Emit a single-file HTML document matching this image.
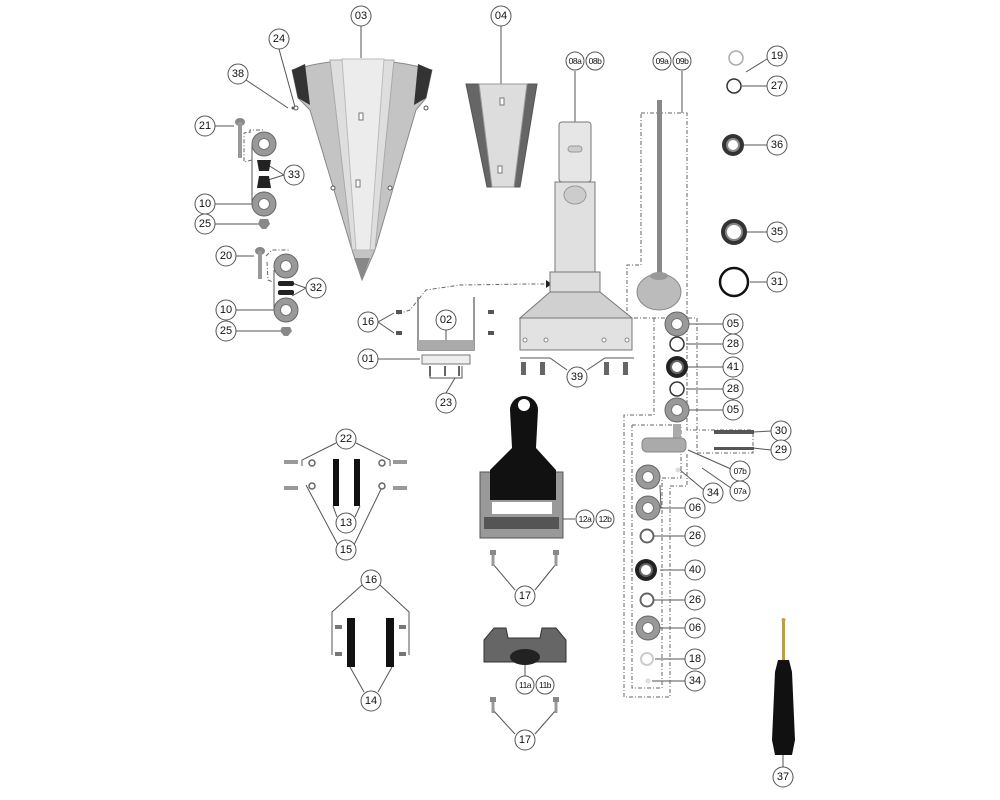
<!DOCTYPE html>
<html><head><meta charset="utf-8"><style>
html,body{margin:0;padding:0;background:#fff;width:1000px;height:800px;overflow:hidden}
svg{display:block}
.l{fill:#fff;stroke:#555;stroke-width:1}
.t{font-family:"Liberation Sans",sans-serif;font-size:11px;fill:#111;text-anchor:middle;dominant-baseline:central}
.s{font-size:8.5px;letter-spacing:-0.5px}
.ln{stroke:#555;stroke-width:1;fill:none}
.d{stroke:#666;stroke-width:1;fill:none;stroke-dasharray:4 2 1 2}
</style></head><body>
<svg width="1000" height="800" viewBox="0 0 1000 800" xmlns="http://www.w3.org/2000/svg">
<defs>
<g id="wash"><circle r="12" fill="#999" stroke="#666"/><circle r="5.5" fill="#fff" stroke="#777"/></g>
<g id="bolt"><rect x="-3" y="-5" width="6" height="5" fill="#888"/><rect x="-1.5" y="0" width="3" height="11" fill="#999"/></g>
</defs>

<g class="ln">
<line x1="361" y1="26" x2="361" y2="58"/>
<line x1="501" y1="26" x2="501" y2="84"/>
<line x1="279" y1="49" x2="295" y2="107"/>
<line x1="246" y1="80" x2="288" y2="108"/>
<line x1="215" y1="126" x2="234" y2="126"/>
<polyline points="284,175 268,165"/><polyline points="284,175 268,180"/>
<polyline points="215,204 252,204 252,145 258,140"/>
<line x1="215" y1="224" x2="262" y2="224"/>
<line x1="236" y1="256" x2="254" y2="256"/>
<polyline points="306,288 292,283"/><polyline points="306,288 292,296"/>
<polyline points="236,310 274,310 274,270"/>
<line x1="236" y1="331" x2="284" y2="331"/>
<polyline points="378,322 394,313"/><polyline points="378,322 394,333"/>
<line x1="446" y1="330" x2="446" y2="348"/>
<line x1="378" y1="359" x2="420" y2="359"/>
<polyline points="430,366 430,378 462,378 462,366"/><line x1="446" y1="393" x2="455" y2="378"/>
<polyline points="520,358 550,358 567,370"/><polyline points="634,358 605,358 587,370"/>
<line x1="575" y1="71" x2="575" y2="122"/>
<polyline points="682,71 682,113"/>
<line x1="767" y1="59" x2="746" y2="72"/>
<line x1="767" y1="86" x2="742" y2="86"/>
<line x1="767" y1="145" x2="744" y2="145"/>
<line x1="767" y1="232" x2="746" y2="232"/>
<line x1="767" y1="282" x2="750" y2="282"/>
<line x1="723" y1="324" x2="686" y2="324"/>
<line x1="723" y1="344" x2="686" y2="344"/>
<line x1="723" y1="367" x2="688" y2="367"/>
<line x1="723" y1="389" x2="686" y2="389"/>
<line x1="723" y1="410" x2="686" y2="410"/>
<line x1="771" y1="431" x2="753" y2="432"/>
<line x1="771" y1="450" x2="753" y2="448"/>
<line x1="731" y1="469" x2="688" y2="450"/>
<line x1="731" y1="488" x2="702" y2="468"/>
<line x1="704" y1="490" x2="680" y2="470"/>
<polyline points="685,508 661,508 660,485"/>
<line x1="685" y1="536" x2="653" y2="536"/>
<line x1="685" y1="570" x2="660" y2="570"/>
<line x1="685" y1="600" x2="653" y2="600"/>
<line x1="685" y1="628" x2="660" y2="628"/>
<line x1="685" y1="659" x2="655" y2="659"/>
<line x1="685" y1="681" x2="652" y2="681"/>
<polyline points="302,466 302,460 336,443"/><polyline points="390,466 390,460 356,443"/>
<line x1="337" y1="517" x2="333" y2="506"/><line x1="355" y1="517" x2="360" y2="506"/>
<line x1="338" y1="545" x2="306" y2="485"/><line x1="354" y1="545" x2="383" y2="485"/>
<line x1="558" y1="519" x2="575" y2="519"/>
<line x1="515" y1="590" x2="493" y2="564"/><line x1="535" y1="590" x2="556" y2="564"/>
<polyline points="332,655 332,612 362,585"/><polyline points="409,655 409,612 380,585"/>
<line x1="364" y1="692" x2="350" y2="667"/><line x1="378" y1="692" x2="392" y2="667"/>
<line x1="525" y1="665" x2="525" y2="676"/>
<line x1="515" y1="734" x2="493" y2="710"/><line x1="535" y1="734" x2="556" y2="710"/>
<line x1="783" y1="767" x2="783" y2="752"/>
</g>

<g class="d">
<polyline points="250,133 250,130 265,130"/>
<polyline points="252,160 244,162 244,133 250,132"/>
<polyline points="266,256 272,250 290,250"/>
<polyline points="267,262 268,280 273,282"/>
<path d="M398,314 L410,310 L426,290 L460,285 L530,284 L550,284"/>
<polyline points="641,113 687,113 687,430 753,430 753,453 697,453 697,318 627,318 627,265 641,265 641,113"/>
<polyline points="632,425 681,425 681,478 662,478 662,688 632,688 632,425"/>
<polyline points="654,318 654,415 624,415 624,697 670,697 670,486 687,486 687,453"/>
</g>
<polygon points="546,280 552,284 546,288" fill="#222"/>

<!-- 03 cone -->
<path d="M292,70 Q360,50 432,70 L426,98 L416,110 L375,250 L362,280 L352,250 L310,110 L298,98 Z" fill="#c4c4c4" stroke="#888"/>
<polygon points="292,70 305,64 310,105 298,98" fill="#333"/>
<polygon points="432,70 418,64 414,105 426,98" fill="#333"/>
<polygon points="330,60 394,60 375,250 352,250" fill="#dedede" stroke="#aaa"/>
<polygon points="342,59 384,59 370,250 356,250" fill="#ececec" stroke="#bbb"/>
<polygon points="354,258 370,258 362,280" fill="#888"/>
<rect x="359" y="113" width="4" height="7" fill="#fff" stroke="#777"/>
<rect x="356" y="180" width="4" height="7" fill="#fff" stroke="#777"/>
<circle cx="296" cy="108" r="2" fill="#fff" stroke="#555"/><circle cx="426" cy="108" r="2" fill="#fff" stroke="#555"/>
<circle cx="333" cy="188" r="2" fill="#fff" stroke="#555"/><circle cx="390" cy="188" r="2" fill="#fff" stroke="#555"/>
<!-- 04 -->
<polygon points="466,84 537,84 520,187 487,187" fill="#666" stroke="#555"/>
<polygon points="479,84 527,84 514,187 492,187" fill="#ddd" stroke="#999"/>
<rect x="500" y="98" width="4" height="7" fill="#fff" stroke="#777"/>
<rect x="498" y="166" width="4" height="7" fill="#fff" stroke="#777"/>

<!-- 08 column -->
<rect x="559" y="122" width="32" height="60" rx="3" fill="#e6e6e6" stroke="#777"/>
<rect x="555" y="182" width="40" height="90" fill="#e0e0e0" stroke="#777"/>
<rect x="550" y="272" width="50" height="20" fill="#ddd" stroke="#777"/>
<polygon points="550,292 600,292 632,318 520,318" fill="#d0d0d0" stroke="#777"/>
<rect x="520" y="318" width="112" height="32" fill="#e2e2e2" stroke="#777"/>
<ellipse cx="575" cy="195" rx="11" ry="9" fill="#ccc" stroke="#999"/>
<rect x="568" y="146" width="14" height="6" rx="3" fill="#ccc" stroke="#999"/>
<g fill="#fff" stroke="#888"><circle cx="525" cy="340" r="2"/><circle cx="546" cy="340" r="2"/><circle cx="604" cy="340" r="2"/><circle cx="627" cy="340" r="2"/></g>
<g fill="#666"><rect x="521" y="362" width="5" height="13"/><rect x="540" y="362" width="5" height="13"/><rect x="604" y="362" width="5" height="13"/><rect x="623" y="362" width="5" height="13"/></g>
<!-- 02 -->
<polyline points="418,297 418,350 474,350 474,297" fill="none" stroke="#777" stroke-width="1.5"/>
<rect x="418" y="340" width="56" height="10" fill="#aaa"/>
<rect x="422" y="355" width="48" height="9" fill="#eee" stroke="#777"/>
<g fill="#666"><rect x="429" y="366" width="2" height="10"/><rect x="444" y="366" width="2" height="10"/><rect x="458" y="366" width="2" height="10"/></g>
<g fill="#555"><rect x="396" y="310" width="6" height="4"/><rect x="396" y="331" width="6" height="4"/><rect x="488" y="310" width="6" height="4"/><rect x="488" y="331" width="6" height="4"/></g>

<!-- left parts -->
<circle cx="293" cy="108" r="1.5" fill="#555"/>
<ellipse cx="240" cy="122" rx="5" ry="4" fill="#888"/><rect x="238" y="122" width="4" height="36" fill="#999"/>
<use href="#wash" x="264" y="144"/><use href="#wash" x="264" y="204"/>
<polygon points="257,160 271,160 269,171 259,171" fill="#222"/><polygon points="259,176 269,176 271,188 257,188" fill="#222"/>
<polygon points="260,219 268,219 270,224 266,229 262,229 258,224" fill="#888"/>
<ellipse cx="260" cy="251" rx="5" ry="4" fill="#888"/><rect x="258" y="251" width="4" height="28" fill="#999"/>
<use href="#wash" x="286" y="266"/><use href="#wash" x="286" y="310"/>
<rect x="278" y="281" width="16" height="5" rx="2" fill="#222"/><rect x="278" y="290" width="16" height="5" rx="2" fill="#222"/>
<polygon points="282,327 290,327 292,331 288,336 284,336 280,331" fill="#888"/>

<!-- right column parts -->
<rect x="657" y="100" width="5" height="180" fill="#888"/>
<ellipse cx="659" cy="292" rx="22" ry="18" fill="#bbb" stroke="#888"/>
<ellipse cx="659" cy="276" rx="9" ry="4" fill="#999"/>
<circle cx="736" cy="58" r="7" fill="none" stroke="#aaa" stroke-width="1.5"/>
<circle cx="734" cy="86" r="7" fill="none" stroke="#333" stroke-width="1.5"/>
<circle cx="733" cy="145" r="11" fill="#333"/><circle cx="733" cy="145" r="6" fill="#fff" stroke="#888" stroke-width="2"/>
<circle cx="734" cy="232" r="13" fill="#333"/><circle cx="734" cy="232" r="8" fill="#fff" stroke="#888" stroke-width="2"/>
<circle cx="734" cy="282" r="14" fill="none" stroke="#111" stroke-width="2.5"/>
<use href="#wash" x="677" y="324"/>
<circle cx="677" cy="344" r="7" fill="none" stroke="#333" stroke-width="1.5"/>
<circle cx="677" cy="367" r="11" fill="#222"/><circle cx="677" cy="367" r="6" fill="#fff" stroke="#666" stroke-width="2"/>
<circle cx="677" cy="389" r="7" fill="none" stroke="#333" stroke-width="1.5"/>
<use href="#wash" x="677" y="410"/>
<rect x="714" y="430" width="40" height="4" fill="#555"/><rect x="714" y="447" width="40" height="3" fill="#555"/>
<rect x="673" y="424" width="8" height="14" fill="#aaa"/><rect x="642" y="438" width="44" height="14" rx="5" fill="#aaa" stroke="#888"/>
<circle cx="678" cy="470" r="2.5" fill="#ddd"/>
<use href="#wash" x="648" y="477"/><use href="#wash" x="648" y="508"/>
<circle cx="647" cy="536" r="6.5" fill="#fff" stroke="#666" stroke-width="2"/>
<circle cx="646" cy="570" r="11" fill="#222"/><circle cx="646" cy="570" r="6" fill="#fff" stroke="#666" stroke-width="2"/>
<circle cx="647" cy="600" r="6.5" fill="#fff" stroke="#666" stroke-width="2"/>
<use href="#wash" x="648" y="628"/>
<circle cx="647" cy="659" r="6" fill="none" stroke="#ccc" stroke-width="2"/>
<circle cx="648" cy="681" r="2.5" fill="#ddd"/>

<!-- 22/13/15 -->
<g fill="#999"><rect x="284" y="460" width="14" height="4"/><rect x="284" y="486" width="14" height="4"/><rect x="393" y="460" width="14" height="4"/><rect x="393" y="486" width="14" height="4"/></g>
<g fill="#fff" stroke="#666" stroke-width="1.5"><circle cx="312" cy="463" r="3"/><circle cx="312" cy="486" r="3"/><circle cx="382" cy="463" r="3"/><circle cx="382" cy="486" r="3"/></g>
<rect x="333" y="459" width="6" height="47" fill="#111"/><rect x="354" y="459" width="6" height="47" fill="#111"/>
<!-- 16/14 -->
<g fill="#777"><rect x="335" y="625" width="7" height="4"/><rect x="335" y="652" width="7" height="4"/><rect x="399" y="625" width="7" height="4"/><rect x="399" y="652" width="7" height="4"/></g>
<rect x="347" y="618" width="8" height="49" fill="#111"/><rect x="386" y="618" width="8" height="49" fill="#111"/>

<!-- 12 -->
<rect x="480" y="472" width="83" height="66" fill="#999" stroke="#555"/>
<path d="M510,410 a14,14 0 0 1 28,0 L536,448 L556,470 L556,500 L490,500 L490,470 L512,448 Z" fill="#111"/>
<circle cx="524" cy="405" r="6" fill="#fff"/>
<rect x="492" y="502" width="60" height="12" fill="#fff"/>
<rect x="484" y="517" width="75" height="12" fill="#555"/>
<use href="#bolt" x="493" y="555"/><use href="#bolt" x="556" y="555"/>
<!-- 11 -->
<path d="M484,640 L494,628 L506,628 L508,638 L540,638 L542,628 L556,628 L566,640 L566,662 L484,662 Z" fill="#666" stroke="#333"/>
<ellipse cx="525" cy="657" rx="15" ry="8" fill="#222"/>
<use href="#bolt" x="493" y="702"/><use href="#bolt" x="556" y="702"/>

<!-- 37 -->
<rect x="782" y="620" width="3" height="40" fill="#b8a04a"/>
<circle cx="783.5" cy="620" r="2" fill="#c8a040"/>
<path d="M778,660 L789,660 L792,672 L795,740 L792,755 L775,755 L772,740 L775,672 Z" fill="#111"/>

<g class="t">
<g><circle class="l" cx="361" cy="16" r="10"/><text x="361" y="16">03</text></g>
<g><circle class="l" cx="501" cy="16" r="10"/><text x="501" y="16">04</text></g>
<g><circle class="l" cx="279" cy="39" r="10"/><text x="279" y="39">24</text></g>
<g><circle class="l" cx="238" cy="74" r="10"/><text x="238" y="74">38</text></g>
<g><circle class="l" cx="205" cy="126" r="10"/><text x="205" y="126">21</text></g>
<g><circle class="l" cx="294" cy="175" r="10"/><text x="294" y="175">33</text></g>
<g><circle class="l" cx="205" cy="204" r="10"/><text x="205" y="204">10</text></g>
<g><circle class="l" cx="205" cy="224" r="10"/><text x="205" y="224">25</text></g>
<g><circle class="l" cx="226" cy="256" r="10"/><text x="226" y="256">20</text></g>
<g><circle class="l" cx="316" cy="288" r="10"/><text x="316" y="288">32</text></g>
<g><circle class="l" cx="226" cy="310" r="10"/><text x="226" y="310">10</text></g>
<g><circle class="l" cx="226" cy="331" r="10"/><text x="226" y="331">25</text></g>
<g><circle class="l" cx="368" cy="322" r="10"/><text x="368" y="322">16</text></g>
<g><circle class="l" cx="446" cy="320" r="10"/><text x="446" y="320">02</text></g>
<g><circle class="l" cx="368" cy="359" r="10"/><text x="368" y="359">01</text></g>
<g><circle class="l" cx="446" cy="403" r="10"/><text x="446" y="403">23</text></g>
<g><circle class="l" cx="577" cy="377" r="10"/><text x="577" y="377">39</text></g>
<g><circle class="l" cx="575" cy="61" r="9"/><text class="s" x="575" y="61">08a</text></g>
<g><circle class="l" cx="595" cy="61" r="9"/><text class="s" x="595" y="61">08b</text></g>
<g><circle class="l" cx="662" cy="61" r="9"/><text class="s" x="662" y="61">09a</text></g>
<g><circle class="l" cx="682" cy="61" r="9"/><text class="s" x="682" y="61">09b</text></g>
<g><circle class="l" cx="777" cy="56" r="10"/><text x="777" y="56">19</text></g>
<g><circle class="l" cx="777" cy="86" r="10"/><text x="777" y="86">27</text></g>
<g><circle class="l" cx="777" cy="145" r="10"/><text x="777" y="145">36</text></g>
<g><circle class="l" cx="777" cy="232" r="10"/><text x="777" y="232">35</text></g>
<g><circle class="l" cx="777" cy="282" r="10"/><text x="777" y="282">31</text></g>
<g><circle class="l" cx="733" cy="324" r="10"/><text x="733" y="324">05</text></g>
<g><circle class="l" cx="733" cy="344" r="10"/><text x="733" y="344">28</text></g>
<g><circle class="l" cx="733" cy="367" r="10"/><text x="733" y="367">41</text></g>
<g><circle class="l" cx="733" cy="389" r="10"/><text x="733" y="389">28</text></g>
<g><circle class="l" cx="733" cy="410" r="10"/><text x="733" y="410">05</text></g>
<g><circle class="l" cx="781" cy="431" r="10"/><text x="781" y="431">30</text></g>
<g><circle class="l" cx="781" cy="450" r="10"/><text x="781" y="450">29</text></g>
<g><circle class="l" cx="740" cy="471" r="10"/><text class="s" x="740" y="471">07b</text></g>
<g><circle class="l" cx="740" cy="491" r="10"/><text class="s" x="740" y="491">07a</text></g>
<g><circle class="l" cx="713" cy="493" r="10"/><text x="713" y="493">34</text></g>
<g><circle class="l" cx="695" cy="508" r="10"/><text x="695" y="508">06</text></g>
<g><circle class="l" cx="695" cy="536" r="10"/><text x="695" y="536">26</text></g>
<g><circle class="l" cx="695" cy="570" r="10"/><text x="695" y="570">40</text></g>
<g><circle class="l" cx="695" cy="600" r="10"/><text x="695" y="600">26</text></g>
<g><circle class="l" cx="695" cy="628" r="10"/><text x="695" y="628">06</text></g>
<g><circle class="l" cx="695" cy="659" r="10"/><text x="695" y="659">18</text></g>
<g><circle class="l" cx="695" cy="681" r="10"/><text x="695" y="681">34</text></g>
<g><circle class="l" cx="346" cy="439" r="10"/><text x="346" y="439">22</text></g>
<g><circle class="l" cx="346" cy="523" r="10"/><text x="346" y="523">13</text></g>
<g><circle class="l" cx="346" cy="550" r="10"/><text x="346" y="550">15</text></g>
<g><circle class="l" cx="585" cy="519" r="9"/><text class="s" x="585" y="519">12a</text></g>
<g><circle class="l" cx="605" cy="519" r="9"/><text class="s" x="605" y="519">12b</text></g>
<g><circle class="l" cx="525" cy="596" r="10"/><text x="525" y="596">17</text></g>
<g><circle class="l" cx="371" cy="580" r="10"/><text x="371" y="580">16</text></g>
<g><circle class="l" cx="371" cy="701" r="10"/><text x="371" y="701">14</text></g>
<g><circle class="l" cx="525" cy="685" r="9"/><text class="s" x="525" y="685">11a</text></g>
<g><circle class="l" cx="545" cy="685" r="9"/><text class="s" x="545" y="685">11b</text></g>
<g><circle class="l" cx="525" cy="740" r="10"/><text x="525" y="740">17</text></g>
<g><circle class="l" cx="783" cy="777" r="10"/><text x="783" y="777">37</text></g>
</g>
</svg>
</body></html>
